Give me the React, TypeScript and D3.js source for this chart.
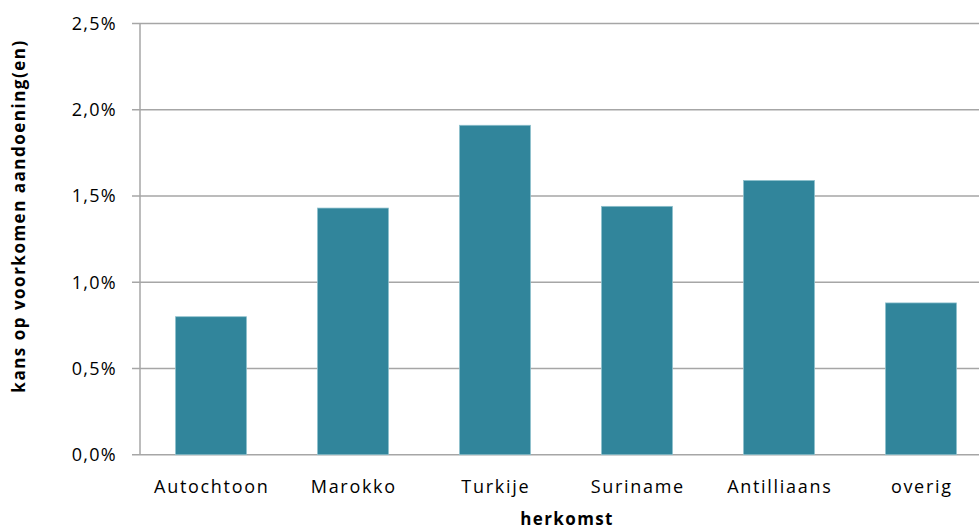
import React from "react";
import * as d3 from "d3";

const categories = ["Autochtoon", "Marokko", "Turkije", "Suriname", "Antilliaans", "overig"];
const values = [0.0080, 0.0143, 0.0191, 0.0144, 0.0159, 0.0088];
const yTicks = [0, 0.005, 0.01, 0.015, 0.02, 0.025];
const yTitle = "kans op voorkomen aandoening(en)";
const xTitle = "herkomst";

export default function App() {
  const W = 979, H = 532;
  const left = 140, right = 992, top = 23.5, bottom = 454.7;
  const x = d3.scaleBand<string>().domain(categories).range([left, right]).paddingInner(0.5).paddingOuter(0.25);
  const y = d3.scaleLinear().domain([0, 0.025]).range([bottom, top]);
  const fmt = (v: number) => (v * 100).toFixed(1).replace(".", ",") + "%";
  const font = "'Open Sans', Lato, sans-serif";
  return (
    <svg width={W} height={H} style={{ position: "absolute", left: 0, top: 0 }} fontFamily={font}>
      <rect width={W} height={H} fill="#fff" />
      {yTicks.map((t) => (
        <g key={t}>
          <line x1={132} x2={W} y1={y(t)} y2={y(t)} stroke="#a6a6a6" strokeWidth={1.5} />
          <text x={117} y={y(t)} dy="0.36em" textAnchor="end" fontSize={18} letterSpacing={1.3} fill="#000">{fmt(t)}</text>
        </g>
      ))}
      <line x1={left} x2={left} y1={top} y2={bottom} stroke="#a6a6a6" strokeWidth={1.5} />
      {categories.map((c, i) => (
        <g key={c}>
          <rect x={x(c)} y={y(values[i])} width={x.bandwidth()} height={bottom - y(values[i])}
            fill="#31859b" stroke="#8fc1cd" strokeWidth={0.75} />
          <text x={(x(c) as number) + x.bandwidth() / 2 + 0.8} y={493} textAnchor="middle" fontSize={18} letterSpacing={1.7} fill="#000">{c}</text>
        </g>
      ))}
      <text x={567} y={525} textAnchor="middle" fontSize={17} letterSpacing={1.4} fontWeight="bold" fill="#000">{xTitle}</text>
      <text transform={`translate(25,216) rotate(-90)`} textAnchor="middle" fontSize={17} letterSpacing={1.5} fontWeight="bold" fill="#000">{yTitle}</text>
    </svg>
  );
}
